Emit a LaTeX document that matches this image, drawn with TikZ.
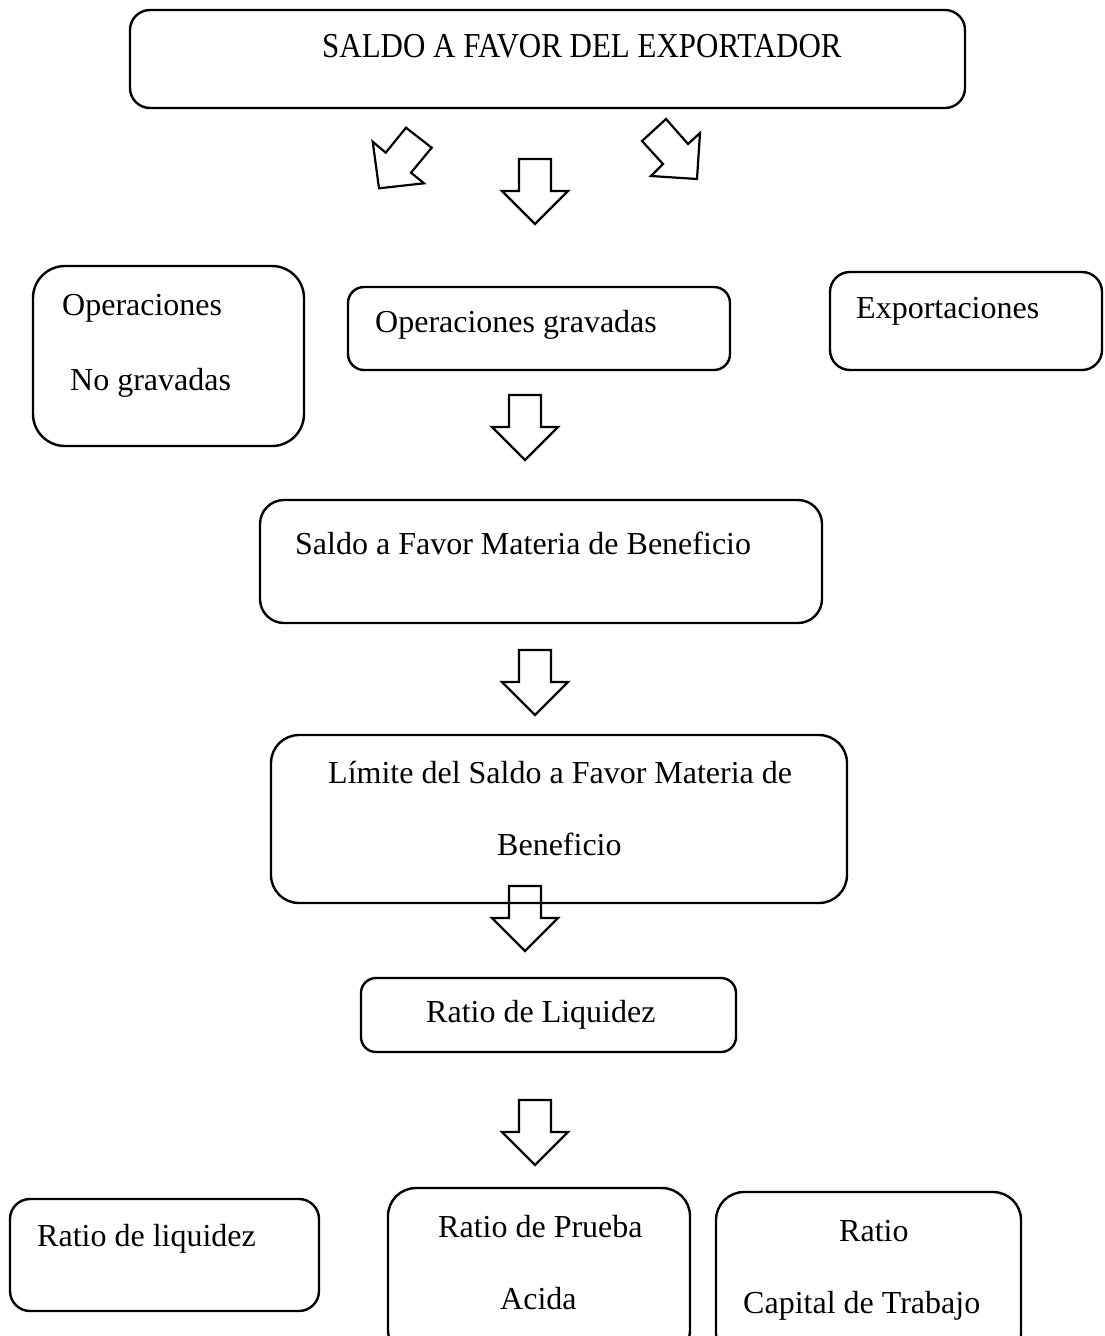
\documentclass[tikz,border=0pt]{standalone}
\usepackage{fontspec}
\setmainfont{Liberation Serif}
\newcommand\blockdown[1]{\draw[blockarrow, shift={(#1)}] (-16,0) -- (16,0) -- (16,32) -- (33,32) -- (0,65) -- (-33,32) -- (-16,32) -- cycle;}
\begin{document}
\begin{tikzpicture}[x=1pt,y=-1pt,
 box/.style={draw, line width=2.4pt, rounded corners=#1, inner sep=0pt, outer sep=0pt, anchor=north west},
 box/.default=22pt,
 txt/.style={anchor=base west, inner sep=0pt, font=\fontsize{32}{38}\selectfont},
 blockarrow/.style={draw, line width=2.2pt, line join=miter}]
\useasboundingbox[fill=white] (0,0) rectangle (1104,1336);

% boxes
\node[box=20pt, minimum width=835pt, minimum height=98pt] (top) at (130,10) {};
\node[box=32pt, minimum width=271pt, minimum height=180pt] (nograv) at (33,266) {};
\node[box=16pt, minimum width=382pt, minimum height=83pt] (grav) at (348,287) {};
\node[box=20pt, minimum width=272pt, minimum height=98pt] (export) at (830,272) {};
\node[box=24pt, minimum width=562pt, minimum height=123pt] (saldo) at (260,500) {};
\node[box=28pt, minimum width=576pt, minimum height=168pt] (limite) at (271,735) {};
\node[box=15pt, minimum width=375pt, minimum height=74pt] (ratioliq) at (361,978) {};
\node[box=20pt, minimum width=309pt, minimum height=112pt] (rliq) at (10,1199) {};
\node[box=28pt, minimum width=302pt, minimum height=170pt] (prueba) at (388,1188) {};
\node[box=28pt, minimum width=305pt, minimum height=170pt] (capital) at (716,1192) {};

% texts
\node[txt, font=\fontsize{35}{40}\selectfont] (ttop) at (322,57) {\scalebox{0.885}[1]{SALDO A FAVOR DEL EXPORTADOR}};
\node[txt] (tng1) at (62,315) {Operaciones};
\node[txt] (tng2) at (70,390) {No gravadas};
\node[txt] (tgrav) at (375,332) {Operaciones gravadas};
\node[txt] (texp) at (856,318) {Exportaciones};
\node[txt] (tsaldo) at (295,554) {Saldo a Favor Materia de Beneficio};
\node[txt] (tlim1) at (328,783) {Límite del Saldo a Favor Materia de};
\node[txt] (tlim2) at (497,855) {Beneficio};
\node[txt] (tratio) at (426,1022) {Ratio de Liquidez};
\node[txt] (trliq) at (37,1246) {Ratio de liquidez};
\node[txt] (tpr1) at (438,1237) {Ratio de Prueba};
\node[txt] (tpr2) at (500,1309) {Acida};
\node[txt] (tcap1) at (839,1241) {Ratio};
\node[txt] (tcap2) at (743,1313) {Capital de Trabajo};

% block arrows
\coordinate (a1) at (535,159);
\coordinate (a2) at (525,395);
\coordinate (a3) at (535,650);
\coordinate (a4) at (525,886);
\coordinate (a5) at (535,1100);
\blockdown{a1}
\blockdown{a2}
\blockdown{a3}
\blockdown{a4}
\blockdown{a5}
\draw[blockarrow] (372.7,141.7) -- (385.7,152.7) -- (406,127.7) -- (431.7,147.7) -- (411,172.7) -- (424,183.3) -- (379,188.3) -- cycle;
\draw[blockarrow] (666,119) -- (642,141) -- (663,164) -- (651,176) -- (697,179) -- (700,133) -- (688,144) -- cycle;
\end{tikzpicture}
\end{document}
